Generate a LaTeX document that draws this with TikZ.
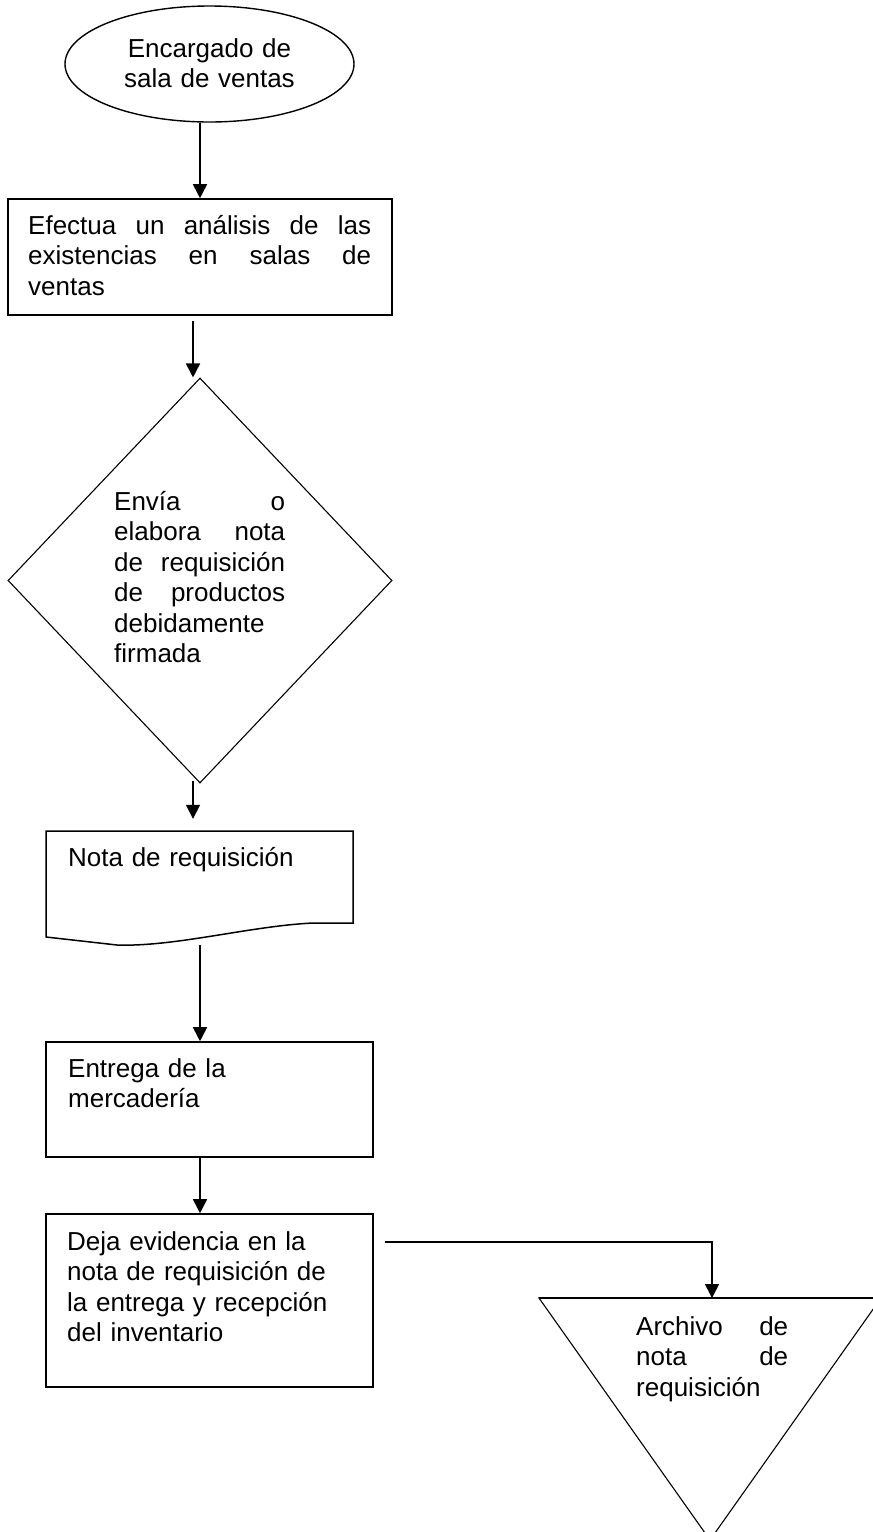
\documentclass[tikz,border=0pt]{standalone}
\usepackage{fontspec}
\setmainfont{Liberation Sans}
\usetikzlibrary{shapes.geometric,arrows.meta}
\newcommand\jl[2]{\leavevmode\hbox to #1{#2}}
\tikzset{
  box/.style={draw, line width=1.6pt, inner sep=0pt},
  arr/.style={draw, line width=1.7pt, -{Triangle[length=14pt,width=14pt]}},
  txt/.style={inner sep=0pt, anchor=base west, align=left, font=\fontsize{26}{30.5}\selectfont},
}
\begin{document}
\begin{tikzpicture}[x=1pt,y=-1pt]
\useasboundingbox (0,0) rectangle (873,1532);
% start
\node[ellipse, draw, line width=1.4pt, minimum width=289pt, minimum height=116pt, inner sep=0pt] (e1) at (209.5,64) {};
\node[txt, text width=220pt, align=center, anchor=base] (e1t) at (209.5,57) {Encargado de\\sala de ventas};
% box 1
\node[box, minimum width=384pt, minimum height=116pt] (r1) at (200,257) {};
\node[txt, text width=343pt] (r1t) at (28,234) {\jl{343pt}{Efectua\hfill un\hfill análisis\hfill de\hfill las}\\\jl{343pt}{existencias\hfill en\hfill salas\hfill de}\\ventas};
% diamond
\node[diamond, draw, line width=1.1pt, minimum width=384pt, minimum height=405pt, inner sep=0pt] (d1) at (200,580.5) {};
\node[txt, text width=171pt] (d1t) at (114,510) {\jl{171pt}{Envía\hfill o}\\\jl{171pt}{elabora\hfill nota}\\\jl{171pt}{de\hfill requisición}\\\jl{171pt}{de\hfill productos}\\debidamente\\firmada};
% document
\node[draw=none, minimum width=307pt, minimum height=114pt, inner sep=0pt] (doc) at (199.5,888) {};
\draw[line width=1.5pt] (46,831) -- (353,831) -- (353,923) -- (313,923) .. controls (250,926) and (175,947) .. (117,945) -- (46,937) -- cycle;
\node[txt, text width=280pt] (doct) at (68,866) {Nota de requisición};
% box 3
\node[box, minimum width=327pt, minimum height=115pt] (r3) at (209.5,1099.5) {};
\node[txt, text width=290pt] (r3t) at (68,1077) {Entrega de la\\mercadería};
% box 4
\node[box, minimum width=327pt, minimum height=173pt] (r4) at (209.5,1300.5) {};
\node[txt, text width=300pt] (r4t) at (67,1250) {Deja evidencia en la\\nota de requisición de\\la entrega y recepción\\del inventario};
% triangle (archive)
\begin{scope}
\clip (0,0) rectangle (873,1532);
\draw[line width=1.1pt] (539,1298) -- (881,1298) -- (710,1540) -- cycle;
\draw[line width=1.6pt] (539,1298) -- (881,1298);
\end{scope}
\coordinate (arch) at (712,1298);
\node[txt, text width=152pt] (trit) at (636,1335) {\jl{152pt}{Archivo\hfill de}\\\jl{152pt}{nota\hfill de}\\requisición};
% connectors
\coordinate (ax) at (200,0);
\coordinate (c1) at (385,1242);
\draw[arr] (ax |- e1.south) -- (r1.north);
\draw[arr] ([xshift=-7pt,yshift=-5pt]r1.south) -- ([xshift=-7pt]d1.north);
\draw[arr] ([xshift=-7pt,yshift=3pt]d1.south) -- ([xshift=-6.5pt,yshift=12pt]doc.north);
\draw[arr] (ax |- doc.south) -- (ax |- r3.north);
\draw[arr] (ax |- r3.south) -- (ax |- r4.north);
\draw[arr] (c1) -| (arch);
\end{tikzpicture}
\end{document}
